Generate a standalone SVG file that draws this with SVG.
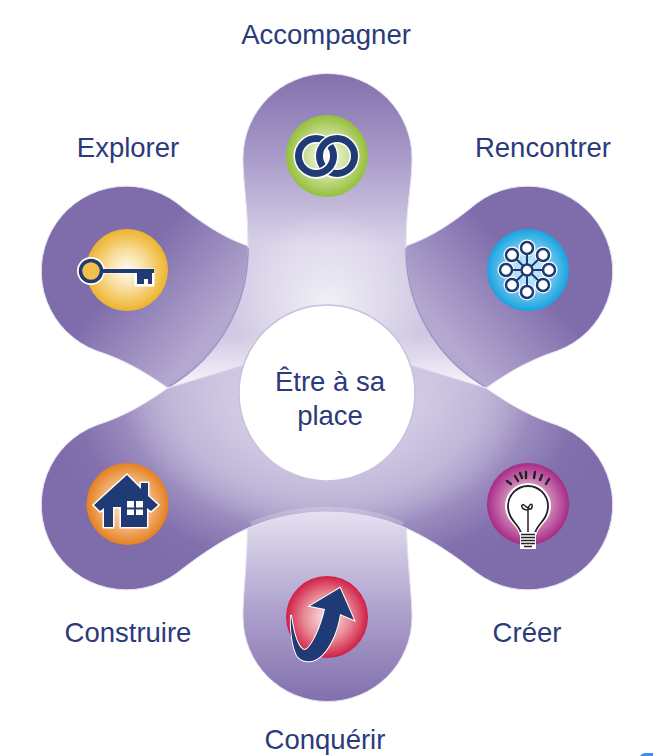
<svg xmlns="http://www.w3.org/2000/svg" width="666" height="756" viewBox="0 0 666 756">
<style>
text{font-family:"Liberation Sans",Arial,sans-serif;font-size:27.5px;fill:#2b3a7a;text-anchor:middle}
.edge{stroke:#e6e1f1;stroke-width:1}
.seam{fill:none;stroke:#a194c6;stroke-width:1.5}
.navy{fill:#1f3a75}
.halo{fill:none;stroke:#fff}
.ring{fill:none;stroke:#1f3a75;stroke-width:7}
.node{fill:#fff;stroke:#1f3a75;stroke-width:2.5}
.nh{fill:#fff}
.spoke{stroke:#1f3a75;stroke-width:2}
.pale{stroke:#bfe3f7;stroke-width:2}
.ray{stroke:#222;stroke-width:2.4;stroke-linecap:round}
.stripe{stroke:#222;stroke-width:1.7}
</style>
<defs>
<linearGradient id="gt" gradientUnits="userSpaceOnUse" x1="0" y1="73" x2="0" y2="400">
<stop offset="0" stop-color="#8270ad"/><stop offset=".26" stop-color="#a99bc9"/><stop offset=".52" stop-color="#d6d0e7"/><stop offset="1" stop-color="#cbc3df"/>
</linearGradient>
<linearGradient id="gb" gradientUnits="userSpaceOnUse" x1="0" y1="512" x2="0" y2="701">
<stop offset="0" stop-color="#e4e0f0"/><stop offset=".55" stop-color="#ab9ecb"/><stop offset="1" stop-color="#8270ad"/>
</linearGradient>
<radialGradient id="gl" gradientUnits="userSpaceOnUse" cx="0" cy="0" r="205" gradientTransform="translate(327 388) scale(1.4 1)">
<stop offset=".35" stop-color="#d0c9e3"/><stop offset=".55" stop-color="#c0b6d8"/><stop offset=".64" stop-color="#b0a4cd"/><stop offset=".72" stop-color="#9a8bbe"/><stop offset=".88" stop-color="#8371ae"/><stop offset="1" stop-color="#7e6cab"/>
</radialGradient>
<radialGradient id="glow" gradientUnits="userSpaceOnUse" cx="327" cy="305" r="95">
<stop offset="0" stop-color="#fff" stop-opacity=".7"/><stop offset="1" stop-color="#fff" stop-opacity="0"/>
</radialGradient>
<linearGradient id="gul" gradientUnits="userSpaceOnUse" x1="173" y1="217" x2="252" y2="286"><stop offset="0" stop-color="#7e6cab"/><stop offset="1" stop-color="#b4a8d0"/></linearGradient>
<linearGradient id="gur" gradientUnits="userSpaceOnUse" x1="481" y1="217" x2="402" y2="286"><stop offset="0" stop-color="#7e6cab"/><stop offset="1" stop-color="#b4a8d0"/></linearGradient>
<linearGradient id="fade" gradientUnits="userSpaceOnUse" x1="0" y1="335" x2="0" y2="395"><stop offset="0" stop-color="#fff"/><stop offset="1" stop-color="#000"/></linearGradient>
<mask id="mk" maskUnits="userSpaceOnUse" x="0" y="0" width="666" height="756"><rect width="666" height="756" fill="url(#fade)"/></mask>
<radialGradient id="cg"><stop offset="0" stop-color="#fbfdf5"/><stop offset=".45" stop-color="#d2e4a8"/><stop offset="1" stop-color="#95bf3a"/></radialGradient>
<radialGradient id="cy"><stop offset="0" stop-color="#fffdf5"/><stop offset=".5" stop-color="#f8dc97"/><stop offset="1" stop-color="#eeb32e"/></radialGradient>
<radialGradient id="cb"><stop offset="0" stop-color="#e8f6fd"/><stop offset=".6" stop-color="#6cc5ee"/><stop offset="1" stop-color="#18a3e0"/></radialGradient>
<radialGradient id="co"><stop offset="0" stop-color="#fdf0e2"/><stop offset=".55" stop-color="#f3b983"/><stop offset="1" stop-color="#e5801f"/></radialGradient>
<radialGradient id="cm"><stop offset="0" stop-color="#f9eef5"/><stop offset=".55" stop-color="#cf86b8"/><stop offset="1" stop-color="#a82a86"/></radialGradient>
<radialGradient id="cr"><stop offset="0" stop-color="#fbe8e6"/><stop offset=".55" stop-color="#e98c98"/><stop offset="1" stop-color="#cf1f45"/></radialGradient>
<clipPath id="lowhalf"><rect x="310" y="156" width="30" height="30"/></clipPath>
</defs>

<g id="connectors"></g>

<g id="shape">
<path id="lobe-bottom" class="edge" fill="url(#gb)" d="M248,500 C248,560 243,590 243,617 A84.5,84.5 0 0 0 412,617 C412,590 406,560 406,500 Z"/>
<path id="arm-lower" class="edge" fill="url(#gl)" d="M168,388 C145,404 125,416 97,425 A85,85 0 1 0 177,573 C200,555 222,540 248,528 A203,203 0 0 1 406,528 C432,540 454,555 477,573 A85,85 0 1 0 557,425 C529,416 509,404 486,388 L327,340 Z"/>
<path d="M251,524 A203,203 0 0 1 403,524" fill="none" stroke="#fff" stroke-opacity=".2" stroke-width="5"/>
<path id="top-centre" class="edge" fill="url(#gt)" mask="url(#mk)" d="M243,158 A84.5,84.5 0 0 1 412,158 C412,185 406,205 406,247 L486,388 L486,420 L168,420 L168,388 L248,247 C248,205 243,185 243,158 Z"/>
<circle cx="327" cy="305" r="95" fill="url(#glow)"/>
<path id="arm-ul" class="edge" fill="url(#gul)" d="M248,246 C222,237 200,222 177,203 A85,85 0 1 0 97,351 C125,360 145,372 168,388 A158,158 0 0 0 248,246 Z"/>
<path id="arm-ur" class="edge" fill="url(#gur)" d="M406,246 C432,237 454,222 477,203 A85,85 0 1 1 557,351 C529,360 509,372 486,388 A158,158 0 0 1 406,246 Z"/>
<path class="seam" d="M170,386 A158,158 0 0 0 248,248 M484,386 A158,158 0 0 1 406,248"/>
</g>

<g id="node-centre">
<circle cx="327" cy="393" r="88" fill="#fff" stroke="#c9c0de" stroke-width="1.5"/>
<text x="330" y="391">Être à sa</text>
<text x="330" y="425">place</text>
</g>

<g id="node-accompagner">
<text x="326" y="44">Accompagner</text>
<circle cx="327" cy="156" r="41" fill="url(#cg)"/>
<circle class="halo" stroke-width="10" cx="316" cy="156" r="17.500"/>
<circle class="ring" cx="316" cy="156" r="17.500"/>
<circle class="halo" stroke-width="10" cx="337" cy="156" r="17.500"/>
<circle class="ring" cx="337" cy="156" r="17.500"/>
<g clip-path="url(#lowhalf)"><circle class="halo" stroke-width="10" cx="316" cy="156" r="17.500"/><circle class="ring" cx="316" cy="156" r="17.500"/></g>
</g>

<g id="node-explorer">
<text x="128" y="157">Explorer</text>
<circle cx="127" cy="270" r="41" fill="url(#cy)"/>
<path d="M100,271 H154 M137,274 H152 V284 H147 V280 H143 V284 H137 Z" fill="#fff" stroke="#fff" stroke-width="5"/>
<circle cx="91" cy="271" r="14" fill="#fff"/>
<circle cx="91" cy="271" r="10.500" fill="#f1c04c" stroke="#1f3a75" stroke-width="3.500"/>
<path class="navy" d="M102,269 H154 V273 H102 Z M137,273 H152 V284 H148 V279 H144 V284 H137 Z"/>
</g>

<g id="node-rencontrer">
<text x="543" y="157">Rencontrer</text>
<circle cx="528" cy="270" r="41" fill="url(#cb)"/>
<path class="pale" d="M528,270 L536,250 M528,270 L548,262 M528,270 L548,278 M528,270 L536,290 M528,270 L520,290 M528,270 L508,278 M528,270 L508,262 M528,270 L520,250"/>
<circle class="nh" cx="527" cy="248" r="8.500"/><circle class="nh" cx="543" cy="255" r="8.500"/><circle class="nh" cx="549" cy="270" r="8.500"/><circle class="nh" cx="543" cy="285" r="8.500"/><circle class="nh" cx="527" cy="292" r="8.500"/><circle class="nh" cx="512" cy="285" r="8.500"/><circle class="nh" cx="506" cy="270" r="8.500"/><circle class="nh" cx="512" cy="255" r="8.500"/>
<path class="spoke" d="M527,248 V292 M506,270 H549 M512,255 L543,285 M543,255 L512,285"/>
<circle class="node" cx="527" cy="248" r="6"/><circle class="node" cx="543" cy="255" r="6"/><circle class="node" cx="549" cy="270" r="6"/><circle class="node" cx="543" cy="285" r="6"/><circle class="node" cx="527" cy="292" r="6"/><circle class="node" cx="512" cy="285" r="6"/><circle class="node" cx="506" cy="270" r="6"/><circle class="node" cx="512" cy="255" r="6"/><circle class="node" cx="527" cy="270" r="5.500"/>
</g>

<g id="node-construire">
<text x="128" y="642">Construire</text>
<circle cx="127.500" cy="504" r="41" fill="url(#co)"/>
<path class="navy" stroke="#fff" stroke-width="3" paint-order="stroke" stroke-linejoin="miter" d="M127,475 L141,489 V483 H148 V496 L158,505 L151,511 L147,508 V527 H121 V507 H113 V527 H104 V508 L100,511 L94,505 Z"/>
<path fill="#fff" d="M127,501 H134 V507.500 H127 Z M136,501 H143 V507.500 H136 Z M127,509.500 H134 V515 H127 Z M136,509.500 H143 V515 H136 Z"/>
</g>

<g id="node-creer">
<text x="527" y="642">Créer</text>
<circle cx="528" cy="504" r="41" fill="url(#cm)"/>
<path class="ray" d="M507,481 L511,484 M515,476 L518,481 M520,473 L522,478 M526,472 L526,478 M535,472 L534,478 M542,475 L540,480 M549,479 L546,484"/>
<path d="M521,533 C519,524 507,520 507,506 A21,21 0 0 1 549,506 C549,520 537,524 535,533 Z" fill="#fff" stroke="#fff" stroke-width="4"/>
<path d="M521,533 C519,524 508,520 508,506 A20,20 0 0 1 548,506 C548,520 537,524 535,533 Z" fill="#fff" stroke="#222" stroke-width="1.800"/>
<path d="M528,533 V510 M528,510 C520,510 521,503 524,505 C527,507 531,512 532,507 C533,503 529,503 528,510" fill="none" stroke="#222" stroke-width="1.500"/>
<rect x="520" y="532" width="16" height="17" fill="#fff"/>
<path class="stripe" d="M521,534.500 H535 M521,537.500 H535 M521,540.500 H535 M521,543.500 H535 M524,546.500 H532"/>
</g>

<g id="node-conquerir">
<text x="325" y="749">Conquérir</text>
<circle cx="327" cy="617" r="41" fill="url(#cr)"/>
<path class="navy" stroke="#fff" stroke-width="2" paint-order="stroke" stroke-linejoin="miter" d="M340,588 L354,620 L340,614 C338,628 332,645 322,655 C315,662 305,664 298,657 C293,650 290,630 291,615 C293,630 297,647 304,650 C309,651 320,632 325,609 L310,606 Z"/>
</g>

<path fill="#3d8ef0" d="M640,756 Q642,753 646,753 H653 V756 Z"/>
</svg>
